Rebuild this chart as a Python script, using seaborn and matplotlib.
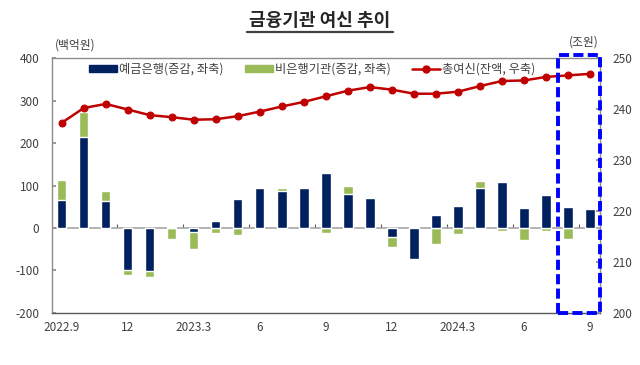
import numpy as np
import pandas as pd
import matplotlib
matplotlib.use("Agg")
import matplotlib.pyplot as plt
import matplotlib.transforms as mtransforms
from matplotlib.patches import Patch, Rectangle
from matplotlib.lines import Line2D
import seaborn as sns

# ---------------- data ----------------
months = ["2022.9", "2022.10", "2022.11", "2022.12",
          "2023.1", "2023.2", "2023.3", "2023.4", "2023.5", "2023.6",
          "2023.7", "2023.8", "2023.9", "2023.10", "2023.11", "2023.12",
          "2024.1", "2024.2", "2024.3", "2024.4", "2024.5", "2024.6",
          "2024.7", "2024.8", "2024.9"]
deposit = [66, 213, 63, -98, -101, 2, -10, 16, 68, 94, 87, 94, 130, 80, 70,
           -21, -74, 31, 52, 95, 108, 47, 77, 49, 44]
nonbank = [46, 60, 24, -13, -15, -27, -40, -11, -16, 3, 7, -3, -12, 20, 2,
           -23, 2, -37, -13, 15, -8, -29, -8, -27, 0]
total_credit = [237.3, 240.2, 241.0, 239.9, 238.8, 238.4, 237.9, 238.0, 238.6,
                239.5, 240.5, 241.4, 242.5, 243.6, 244.3, 243.8, 243.0, 243.0,
                243.4, 244.5, 245.5, 245.6, 246.3, 246.6, 246.9]
tick_labels = ["2022.9", "12", "2023.3", "6", "9", "12", "2024.3", "6", "9"]
labels = ["예금은행(증감, 좌축)", "비은행기관(증감, 좌축)", "총여신(잔액, 우축)"]

# ---------------- style ----------------
sns.set_theme(style="white")
plt.rcParams["font.family"] = ["Noto Sans CJK KR", "DejaVu Sans"]
plt.rcParams["axes.unicode_minus"] = False

NAVY = "#002060"
GREEN = "#9BBB59"
RED = "#C00000"
GRAY = "#8C8C8C"
TXT = "#404040"

df = pd.DataFrame({"month": months, "deposit": deposit, "nonbank": nonbank,
                   "total": total_credit})
# end of the green segment (stacked on deposit when same sign, else from zero)
df["green_end"] = [d + n if d * n > 0 else n for d, n in zip(deposit, nonbank)]
df["pos"] = np.arange(len(df))

fig = plt.figure(figsize=(6.4, 3.65), dpi=100)
ax = fig.add_axes([0.081, 0.1425, 0.9375 - 0.081, 0.841 - 0.1425])

ax.axhline(0, color="#A6A6A6", lw=1.2, zorder=0.5)
sns.barplot(data=df, x="month", y="green_end", color=GREEN, saturation=1,
            width=0.42, ax=ax, zorder=2)
sns.barplot(data=df, x="month", y="deposit", color=NAVY, saturation=1,
            width=0.42, ax=ax, zorder=3)

n = len(df)
ax.set_xlim(-0.45, n - 1 + 0.45)
ax.set_ylim(-200, 400)
ax.set_yticks(range(-200, 401, 100))
ax.set_xticks(df["pos"][::3])
ax.set_xticklabels(tick_labels)
ax.set_xlabel("")
ax.set_ylabel("")
ax.tick_params(axis="x", length=0, pad=6, labelsize=8.5, colors=TXT)
ax.tick_params(axis="y", direction="in", length=3, pad=9, labelsize=8.5,
               colors=TXT, color=GRAY, left=True)

for s in ["left", "top", "right"]:
    ax.spines[s].set_color(GRAY)
    ax.spines[s].set_linewidth(1)
ax.spines["bottom"].set_color("#595959")
ax.spines["bottom"].set_linewidth(1)

# minor ticks on zero line between quarters
zsec = ax.secondary_xaxis(200 / 600)
zsec.set_xticks(df["pos"][2::3] + 0.5)
zsec.set_xticklabels([])
zsec.tick_params(axis="x", direction="in", length=3, color="#595959", width=0.8)
zsec.spines["bottom"].set_visible(False)
zsec.spines["top"].set_visible(False)

# line on right axis
ax2 = ax.twinx()
sns.lineplot(data=df, x="pos", y="total", color=RED, lw=1.8, marker="o",
             markersize=5, markeredgecolor=RED, ax=ax2, zorder=5)
ax2.set_ylim(200, 250)
ax2.set_yticks(range(200, 251, 10))
ax2.set_ylabel("")
ax2.set_xlabel("")
ax2.tick_params(axis="y", direction="in", length=3, pad=9, labelsize=8.5,
                colors=TXT, color=GRAY, right=True)
for s in ax2.spines.values():
    s.set_visible(False)
ax2.set_xlim(-0.45, n - 1 + 0.45)

# dashed highlight box on the last two months
trans = mtransforms.blended_transform_factory(ax2.transData, ax2.transAxes)
box = Rectangle((n - 2 - 0.45, 0.0), 1.9, 1.012, transform=trans, fill=False,
                edgecolor="#0000FF", lw=2.8, linestyle=(0, (2.6, 1.1)),
                clip_on=False, zorder=10)
ax2.add_patch(box)

# legend
handles = [Patch(facecolor=NAVY, edgecolor=NAVY),
           Patch(facecolor=GREEN, edgecolor=GREEN),
           Line2D([], [], color=RED, lw=1.8, marker="o", markersize=5)]
leg = ax2.legend(handles, labels, ncol=3, loc="center",
                 bbox_to_anchor=(0.475, 0.955), frameon=False, fontsize=8.8,
                 handlelength=2.3, handleheight=0.45, handletextpad=0.2,
                 columnspacing=1.7, borderaxespad=0)
for t in leg.get_texts():
    t.set_color(TXT)

# unit labels
fig.text(75 / 640, 1 - 45 / 365, "(백억원)", ha="center", va="center",
         fontsize=8.5, color=TXT)
fig.text(584 / 640, 1 - 42 / 365, "(조원)", ha="center", va="center",
         fontsize=8.5, color=TXT)

# title with underline
title = fig.text(0.5, 1 - 20 / 365, "금융기관 여신 추이", ha="center",
                 va="center", fontsize=13, fontweight="bold", color="#262626")
fig.canvas.draw()
bb = title.get_window_extent().transformed(fig.transFigure.inverted())
fig.add_artist(Line2D([bb.x0 - 0.003, bb.x1 + 0.003], [bb.y0 - 0.006, bb.y0 - 0.006],
                      transform=fig.transFigure, color="#404040", lw=1.6))

fig.savefig("out.png", dpi=100)
